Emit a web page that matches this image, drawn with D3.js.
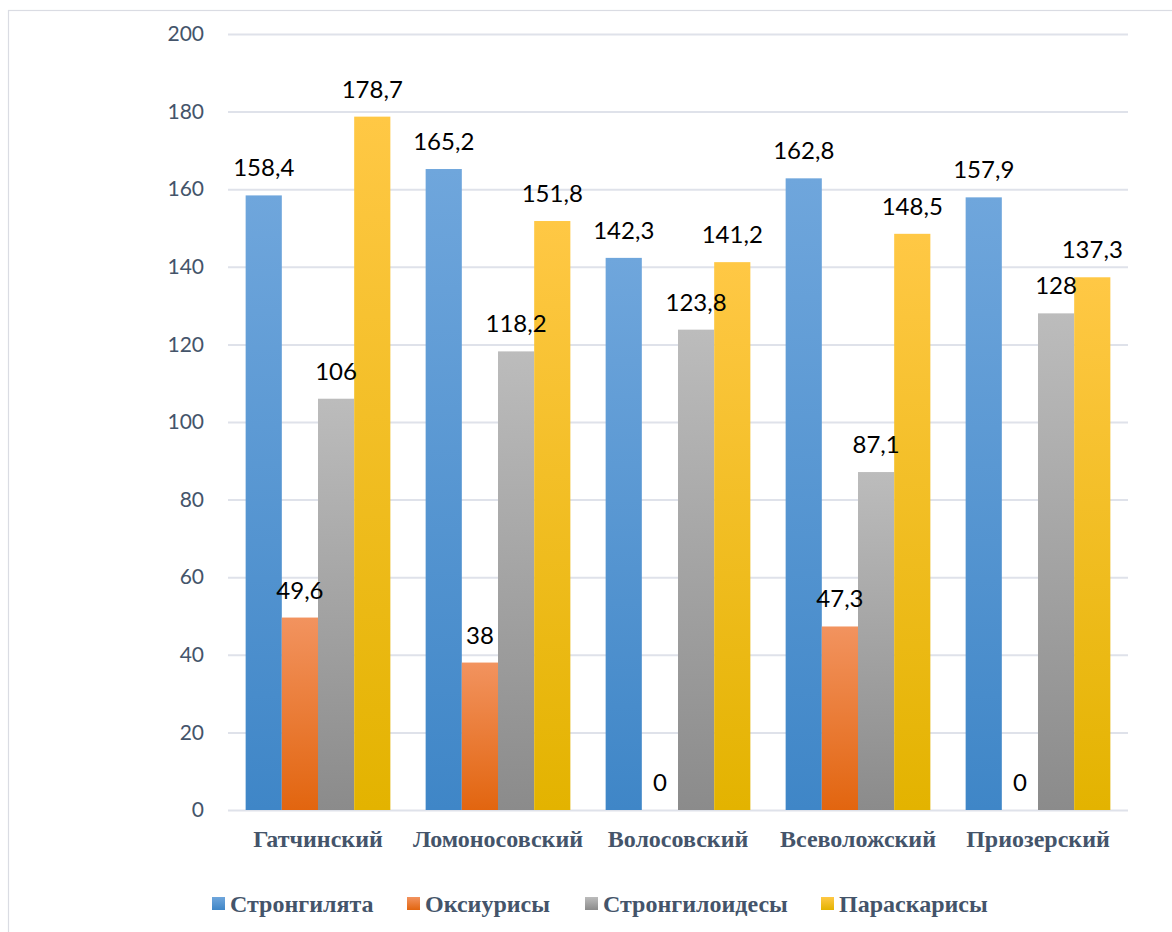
<!DOCTYPE html>
<html>
<head>
<meta charset="utf-8">
<script src="https://cdn.jsdelivr.net/npm/d3@7"></script>
<style>
  html, body { margin: 0; padding: 0; background: #fff; }
  svg { display: block; }
</style>
</head>
<body>
<svg id="chart" width="1172" height="932"></svg>
<script>
// ── Data ─────────────────────────────────────────────
const districts = ['Гатчинский', 'Ломоносовский', 'Волосовский', 'Всеволожский', 'Приозерский'];
const seriesNames = ['Стронгилята', 'Оксиурисы', 'Стронгилоидесы', 'Параскарисы'];
const strongylata   = [158.4, 165.2, 142.3, 162.8, 157.9];
const oxyuris       = [49.6, 38, 0, 47.3, 0];
const strongyloides = [106, 118.2, 123.8, 87.1, 128];
const parascaris    = [178.7, 151.8, 141.2, 148.5, 137.3];
const yTicks = [0, 20, 40, 60, 80, 100, 120, 140, 160, 180, 200];

const seriesValues = [strongylata, oxyuris, strongyloides, parascaris];

// top / bottom colours of each bar gradient
const palette = [
  ['#6fa6dc', '#3f86c7'],
  ['#f2935f', '#e2650f'],
  ['#bcbcbc', '#8b8b8b'],
  ['#ffc845', '#e3b300'],
];

const svg = d3.select('#chart');
const slate = '#44546a';

// ── Frame ─────────────────────────────────────────────
svg.append('rect')
  .attr('x', 8.5).attr('y', 10.5)
  .attr('width', 1300).attr('height', 1000)
  .attr('fill', 'none')
  .attr('stroke', '#dadce3')
  .attr('stroke-width', 1.2);

// ── Gradients ─────────────────────────────────────────
const defs = svg.append('defs');
palette.forEach((c, i) => {
  const g = defs.append('linearGradient')
    .attr('id', 'grad' + i)
    .attr('x1', 0).attr('y1', 0).attr('x2', 0).attr('y2', 1);
  g.append('stop').attr('offset', '0%').attr('stop-color', c[0]);
  g.append('stop').attr('offset', '100%').attr('stop-color', c[1]);
});

// ── Scales ────────────────────────────────────────────
const x0 = d3.scaleBand().domain(districts).range([228, 1128]).paddingInner(0.196).paddingOuter(0.098);
const x1 = d3.scaleBand().domain(d3.range(seriesNames.length)).range([0, x0.bandwidth()]);
const y = d3.scaleLinear().domain([0, 200]).range([810, 34]);

// ── Grid + y labels ───────────────────────────────────
const yAxis = d3.axisLeft(y).tickValues(yTicks).tickSize(-900).tickPadding(24);
const ga = svg.append('g').attr('transform', 'translate(228,0)').call(yAxis);
ga.select('.domain').remove();
ga.selectAll('.tick line').attr('stroke', '#dfe2ea').attr('stroke-width', 2);
ga.selectAll('.tick text')
  .attr('fill', slate)
  .attr('font-family', 'Lato, "Open Sans", sans-serif')
  .attr('font-size', 21);

// ── Bars ──────────────────────────────────────────────
const cellData = (d, di) => seriesValues.map((vals, si) => ({ si, v: vals[di] }));

const barLayer = svg.append('g');
const labelLayer = svg.append('g');

barLayer.selectAll('g')
  .data(districts)
  .join('g')
  .attr('transform', d => `translate(${x0(d)},0)`)
  .selectAll('rect')
  .data(cellData)
  .join('rect')
  .attr('x', d => x1(d.si))
  .attr('y', d => y(d.v))
  .attr('width', x1.bandwidth())
  .attr('height', d => y(0) - y(d.v))
  .attr('fill', d => `url(#grad${d.si})`);

// labels on top of all bars
labelLayer.selectAll('g')
  .data(districts)
  .join('g')
  .attr('transform', d => `translate(${x0(d)},0)`)
  .selectAll('text')
  .data(cellData)
  .join('text')
  .attr('x', d => x1(d.si) + x1.bandwidth() / 2)
  .attr('y', d => y(d.v) - 19)
  .attr('text-anchor', 'middle')
  .attr('fill', '#000')
  .attr('font-family', 'Lato, "Open Sans", sans-serif')
  .attr('font-size', 24)
  .text(d => String(d.v).replace('.', ','));

// ── Category labels ───────────────────────────────────
svg.append('g').selectAll('text')
  .data(districts)
  .join('text')
  .attr('x', d => x0(d) + x0.bandwidth() / 2)
  .attr('y', 847)
  .attr('text-anchor', 'middle')
  .attr('fill', slate)
  .attr('font-family', '"Liberation Serif", "Times New Roman", serif')
  .attr('font-weight', 'bold')
  .attr('font-size', 24)
  .text(d => d);

// ── Legend ────────────────────────────────────────────
const legendX = [212, 407, 585, 821];
const leg = svg.append('g').selectAll('g')
  .data(seriesNames)
  .join('g')
  .attr('transform', (d, i) => `translate(${legendX[i]},897)`);

leg.append('rect')
  .attr('x', 0).attr('y', 0)
  .attr('width', 13).attr('height', 13)
  .attr('fill', (d, i) => `url(#grad${i})`);

leg.append('text')
  .attr('x', 18).attr('y', 15)
  .attr('fill', slate)
  .attr('font-family', '"Liberation Serif", "Times New Roman", serif')
  .attr('font-weight', 'bold')
  .attr('font-size', 24)
  .text(d => d);
</script>
</body>
</html>
